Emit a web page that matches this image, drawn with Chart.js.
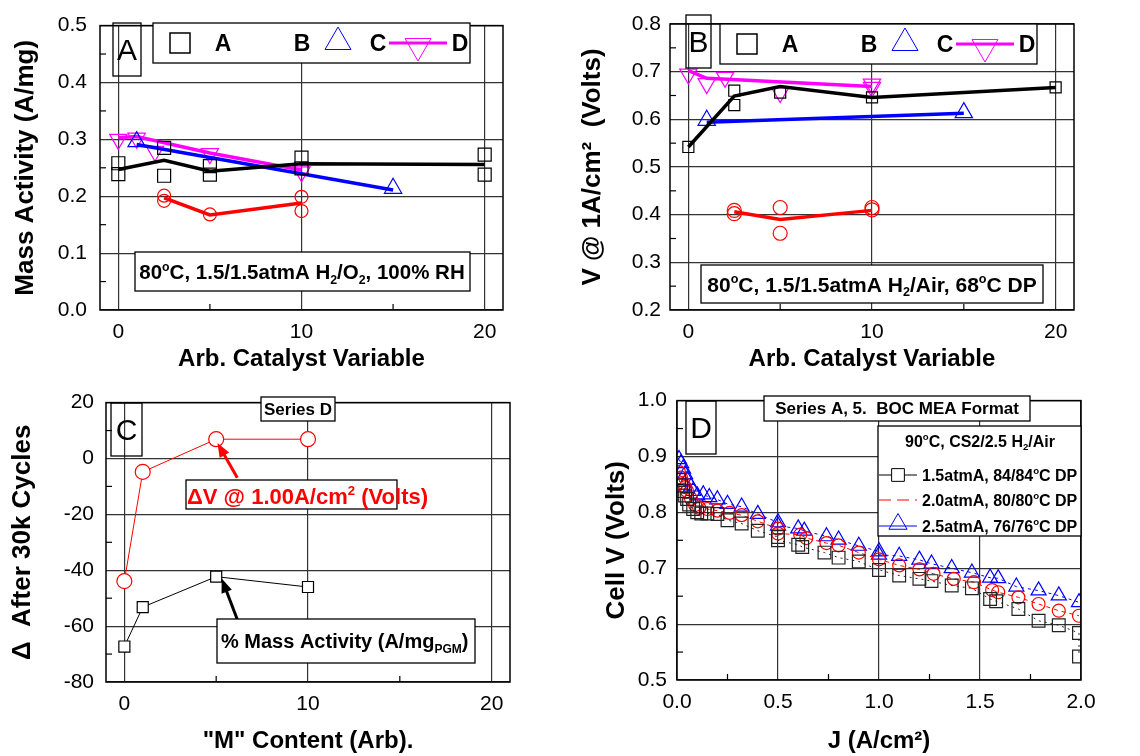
<!DOCTYPE html>
<html>
<head>
<meta charset="utf-8">
<script src="https://cdn.jsdelivr.net/npm/chart.js@4.4.1/dist/chart.umd.min.js"></script>
<style>
  html, body { margin: 0; padding: 0; background: #fff; }
  #wrap { position: relative; width: 1140px; height: 756px; }
  canvas { position: absolute; }
</style>
</head>
<body>
<div id="wrap">
  <canvas id="chartA" width="570" height="378" style="left:0;top:0"></canvas>
  <canvas id="chartB" width="570" height="378" style="left:570px;top:0"></canvas>
  <canvas id="chartC" width="570" height="378" style="left:0;top:378px"></canvas>
  <canvas id="chartD" width="570" height="378" style="left:570px;top:378px"></canvas>
</div>
<script>
// Panel A - mass activity vs catalyst variable
const maSquareX = [0, 0, 2.5, 2.5, 5, 5, 10, 10, 20, 20];
const maSquareY = [0.258, 0.239, 0.285, 0.236, 0.253, 0.238, 0.268, 0.249, 0.273, 0.238];
const maBlackLineX = [0, 2.5, 5, 10, 20];
const maBlackLineY = [0.247, 0.263, 0.244, 0.257, 0.256];
const maCircleX = [2.5, 2.5, 5, 10, 10];
const maCircleY = [0.201, 0.192, 0.168, 0.199, 0.174];
const maRedLineX = [2.5, 5, 10];
const maRedLineY = [0.197, 0.167, 0.188];
const maTriX = [1, 15];
const maTriY = [0.296, 0.214];
const maBlueLineX = [1, 15];
const maBlueLineY = [0.291, 0.211];
const maDownX = [0, 1, 2, 5, 10];
const maDownY = [0.300, 0.302, 0.279, 0.275, 0.243];
const maPinkLineX = [0, 1, 5, 10];
const maPinkLineY = [0.303, 0.305, 0.276, 0.246];

// Panel B - V @ 1A/cm2
const vSquareX = [0, 2.5, 2.5, 5, 10, 20];
const vSquareY = [0.542, 0.660, 0.630, 0.656, 0.646, 0.667];
const vBlackLineX = [0, 2.5, 5, 10, 20];
const vBlackLineY = [0.542, 0.649, 0.669, 0.646, 0.667];
const vCircleX = [2.5, 2.5, 5, 5, 10, 10];
const vCircleY = [0.409, 0.402, 0.415, 0.361, 0.415, 0.410];
const vRedLineX = [2.5, 5, 10];
const vRedLineY = [0.406, 0.390, 0.409];
const vTriX = [1, 15];
const vTriY = [0.598, 0.614];
const vBlueLineX = [1, 15];
const vBlueLineY = [0.594, 0.613];
const vDownX = [0, 1, 2, 5, 10, 10];
const vDownY = [0.695, 0.675, 0.688, 0.656, 0.674, 0.667];
const vPinkLineX = [0, 1, 10];
const vPinkLineY = [0.702, 0.686, 0.669];

// Panel C - change after 30k cycles, series D
const mContent = [0, 1, 5, 10];
const deltaVolts = [-43.9, -4.8, 6.9, 6.9];
const deltaMassAct = [-67.3, -53.2, -42.3, -46.0];

// Panel D - polarization curves
const j15 = [0.01, 0.02, 0.03, 0.04, 0.05, 0.06, 0.08, 0.1, 0.12, 0.15, 0.2, 0.25, 0.32, 0.4, 0.5, 0.5, 0.6, 0.62, 0.73, 0.8, 0.9, 1.0, 1.1, 1.2, 1.26, 1.36, 1.46, 1.55, 1.58, 1.69, 1.79, 1.89, 1.99, 1.99];
const v15 = [0.858, 0.848, 0.838, 0.830, 0.824, 0.814, 0.806, 0.800, 0.798, 0.798, 0.797, 0.786, 0.780, 0.767, 0.756, 0.750, 0.742, 0.738, 0.728, 0.719, 0.712, 0.697, 0.687, 0.681, 0.677, 0.669, 0.664, 0.645, 0.641, 0.627, 0.606, 0.598, 0.584, 0.542];
const j20 = [0.01, 0.02, 0.03, 0.04, 0.05, 0.07, 0.09, 0.11, 0.15, 0.2, 0.26, 0.32, 0.4, 0.5, 0.5, 0.61, 0.64, 0.74, 0.8, 0.9, 1.0, 1.1, 1.2, 1.27, 1.37, 1.47, 1.56, 1.59, 1.69, 1.79, 1.89, 1.99];
const v20 = [0.872, 0.862, 0.853, 0.845, 0.838, 0.824, 0.813, 0.808, 0.806, 0.803, 0.799, 0.795, 0.784, 0.771, 0.762, 0.760, 0.754, 0.745, 0.741, 0.728, 0.716, 0.705, 0.698, 0.690, 0.681, 0.675, 0.661, 0.657, 0.648, 0.636, 0.624, 0.615];
const j25 = [0.01, 0.02, 0.03, 0.04, 0.05, 0.07, 0.08, 0.1, 0.13, 0.16, 0.2, 0.25, 0.32, 0.4, 0.5, 0.5, 0.6, 0.63, 0.74, 0.8, 0.9, 1.0, 1.0, 1.1, 1.2, 1.26, 1.36, 1.46, 1.55, 1.59, 1.68, 1.79, 1.89, 1.99];
const v25 = [0.895, 0.888, 0.878, 0.868, 0.858, 0.846, 0.838, 0.830, 0.832, 0.827, 0.823, 0.815, 0.810, 0.797, 0.782, 0.776, 0.771, 0.767, 0.757, 0.751, 0.740, 0.730, 0.724, 0.722, 0.715, 0.708, 0.700, 0.692, 0.683, 0.682, 0.667, 0.660, 0.651, 0.639];

// tick values
const catTicks = [0, 10, 20];
const maTicks = [0, 0.1, 0.2, 0.3, 0.4, 0.5];
const vTicks = [0.2, 0.3, 0.4, 0.5, 0.6, 0.7, 0.8];
const deltaTicks = [-80, -60, -40, -20, 0, 20];
const jTicks = [0, 0.5, 1.0, 1.5, 2.0];
const cellTicks = [0.5, 0.6, 0.7, 0.8, 0.9, 1.0];

const FONT = "'Liberation Sans', Arial, sans-serif";
const GRID = '#333';
Chart.defaults.font.family = FONT;
Chart.defaults.color = '#000';

function pts(xs, ys) { return xs.map((x, i) => ({ x: x, y: ys[i] })); }

function marks(xs, ys, style, color, r, extra) {
  return Object.assign({
    data: pts(xs, ys), showLine: false, pointStyle: style, pointRadius: r,
    borderColor: color, pointBorderColor: color, pointBackgroundColor: 'rgba(0,0,0,0)', pointBorderWidth: 1.2
  }, extra || {});
}

function line(xs, ys, color, w, extra) {
  return Object.assign({
    data: pts(xs, ys), showLine: true, pointRadius: 0, borderColor: color, borderWidth: w, fill: false
  }, extra || {});
}

function scales(o) {
  return {
    x: {
      type: 'linear', min: o.xMin, max: o.xMax,
      afterBuildTicks: s => { s.ticks = o.xTicks.map(v => ({ value: v })); },
      afterFit: s => { s.height = o.xH; },
      grid: { color: GRID, lineWidth: 1.2, drawTicks: false },
      border: { display: false },
      ticks: { padding: o.xPad, font: { size: 21 }, color: '#000', maxRotation: 0, autoSkip: false, callback: o.xFmt },
      title: { display: true, text: o.xTitle, font: { size: 24, weight: 'bold' }, color: '#000', padding: { top: 0, bottom: o.xTitlePad } }
    },
    y: {
      type: 'linear', min: o.yMin, max: o.yMax,
      afterBuildTicks: s => { s.ticks = o.yTicks.map(v => ({ value: v })); },
      afterFit: s => { s.width = o.yW; },
      grid: { color: GRID, lineWidth: 1.2, drawTicks: false },
      border: { display: false },
      ticks: { padding: o.yPad, font: { size: 21 }, color: '#000', autoSkip: false, callback: o.yFmt },
      title: { display: true, text: o.yTitle, font: { size: 26, weight: 'bold' }, color: '#000', padding: { top: o.yTitlePad, bottom: 0 } }
    }
  };
}

// frame box and minor tick marks
Chart.register({
  id: 'frame',
  defaults: { xMinor: [], yMinor: [] },
  afterDatasetsDraw(chart, args, opts) {
    const ctx = chart.ctx, a = chart.chartArea;
    const xs = chart.scales.x, ys = chart.scales.y;
    ctx.save();
    ctx.strokeStyle = '#000';
    ctx.lineWidth = 1.2;
    opts.xMinor.forEach(v => {
      const px = xs.getPixelForValue(v);
      ctx.beginPath(); ctx.moveTo(px, a.bottom); ctx.lineTo(px, a.bottom - 6); ctx.stroke();
    });
    opts.yMinor.forEach(v => {
      const py = ys.getPixelForValue(v);
      ctx.beginPath(); ctx.moveTo(a.left, py); ctx.lineTo(a.left + 6, py); ctx.stroke();
    });
    ctx.lineWidth = 1.5;
    ctx.strokeRect(a.left, a.top, a.right - a.left, a.bottom - a.top);
    ctx.restore();
  }
});

function box(ctx, x1, y1, x2, y2, fill) {
  ctx.save();
  if (fill) { ctx.fillStyle = fill; ctx.fillRect(x1, y1, x2 - x1, y2 - y1); }
  ctx.strokeStyle = '#000';
  ctx.lineWidth = 1.3;
  ctx.strokeRect(x1, y1, x2 - x1, y2 - y1);
  ctx.restore();
}

// text with superscript / subscript pieces: parts = [[text, 'sup'|'sub'|''], ...]
function rich(ctx, parts, x, y, size, bold, color, align) {
  const weight = bold ? 'bold' : 'normal';
  const fontFor = p => weight + ' ' + (p[1] ? size * 0.6 : size) + 'px ' + FONT;
  let w = 0;
  parts.forEach(p => { ctx.font = fontFor(p); w += ctx.measureText(p[0]).width; });
  let cx = align === 'center' ? x - w / 2 : x;
  const base = y + size * 0.36;
  ctx.save();
  ctx.fillStyle = color || '#000';
  ctx.textBaseline = 'alphabetic';
  ctx.textAlign = 'left';
  parts.forEach(p => {
    ctx.font = fontFor(p);
    const dy = p[1] === 'sup' ? -size * 0.42 : p[1] === 'sub' ? size * 0.22 : 0;
    ctx.fillText(p[0], cx, base + dy);
    cx += ctx.measureText(p[0]).width;
  });
  ctx.restore();
}

function letterBox(ctx, x1, y1, x2, y2, letter) {
  box(ctx, x1, y1, x2, y2, null);
  rich(ctx, [[letter, '']], (x1 + x2) / 2, (y1 + y2) / 2, 30, false, '#000', 'center');
}

function marker(ctx, style, x, y, r, color, rot, fill) {
  ctx.save();
  ctx.strokeStyle = color;
  ctx.fillStyle = fill || 'rgba(0,0,0,0)';
  Chart.helpers.drawPoint(ctx, { pointStyle: style, rotation: rot || 0, radius: r, borderWidth: 1.4 }, x, y);
  ctx.restore();
}

function legendAB(ctx, L, T) {
  box(ctx, L, T, L + 317, T + 40, '#fff');
  const cy = T + 20;
  ctx.save();
  ctx.strokeStyle = '#000';
  ctx.lineWidth = 1.5;
  ctx.strokeRect(L + 17, cy - 10, 20, 20);
  ctx.restore();
  rich(ctx, [['A', '']], L + 70, cy, 23, true, '#000', 'center');
  rich(ctx, [['B', '']], L + 149, cy, 23, true, '#000', 'center');
  marker(ctx, 'triangle', L + 185, cy - 1, 15, '#0000ff');
  rich(ctx, [['C', '']], L + 225, cy, 23, true, '#000', 'center');
  ctx.save();
  ctx.strokeStyle = '#ff00ff';
  ctx.lineWidth = 3;
  ctx.beginPath(); ctx.moveTo(L + 236, cy); ctx.lineTo(L + 294, cy); ctx.stroke();
  ctx.restore();
  marker(ctx, 'triangle', L + 265, cy + 3, 15, '#ff00ff', 180);
  rich(ctx, [['D', '']], L + 307, cy, 23, true, '#000', 'center');
}

function arrow(ctx, x1, y1, x2, y2, color) {
  const a = Math.atan2(y2 - y1, x2 - x1), L = 14, W = 5.5;
  ctx.save();
  ctx.strokeStyle = color; ctx.fillStyle = color; ctx.lineWidth = 3;
  ctx.beginPath(); ctx.moveTo(x1, y1); ctx.lineTo(x2 - L * 0.8 * Math.cos(a), y2 - L * 0.8 * Math.sin(a)); ctx.stroke();
  ctx.beginPath(); ctx.moveTo(x2, y2);
  ctx.lineTo(x2 - L * Math.cos(a) + W * Math.sin(a), y2 - L * Math.sin(a) - W * Math.cos(a));
  ctx.lineTo(x2 - L * Math.cos(a) - W * Math.sin(a), y2 - L * Math.sin(a) + W * Math.cos(a));
  ctx.closePath(); ctx.fill();
  ctx.restore();
}

const fmt1 = v => v.toFixed(1);
const fmt0 = v => String(v);
const common = { responsive: false, animation: false, events: [] };

// ---- A ----
new Chart(document.getElementById('chartA'), {
  type: 'scatter',
  data: {
    datasets: [
      marks(maSquareX, maSquareY, 'rect', '#000', 9.2),
      line(maBlackLineX, maBlackLineY, '#000', 3.5),
      marks(maCircleX, maCircleY, 'circle', '#ff0000', 6.5),
      line(maRedLineX, maRedLineY, '#ff0000', 3.5),
      marks(maTriX, maTriY, 'triangle', '#0000ff', 10),
      line(maBlueLineX, maBlueLineY, '#0000ff', 3.5),
      marks(maDownX, maDownY, 'triangle', '#ff00ff', 10, { pointRotation: 180 }),
      line(maPinkLineX, maPinkLineY, '#ff00ff', 3.5)
    ]
  },
  options: Object.assign({}, common, {
    layout: { padding: { top: 24, right: 67, bottom: 0, left: 0 } },
    scales: scales({
      xMin: -1, xMax: 21, xTicks: catTicks, xH: 68, xPad: 10, xFmt: fmt0, xTitle: 'Arb. Catalyst Variable', xTitlePad: 4,
      yMin: 0, yMax: 0.5, yTicks: maTicks, yW: 100, yPad: 13, yFmt: fmt1, yTitle: 'Mass Activity (A/mg)', yTitlePad: 10
    }),
    plugins: {
      legend: { display: false }, tooltip: { enabled: false },
      frame: { xMinor: [5, 15], yMinor: [0.05, 0.15, 0.25, 0.35, 0.45] }
    }
  }),
  plugins: [{
    id: 'decoA',
    afterDatasetsDraw(chart) {
      const ctx = chart.ctx;
      letterBox(ctx, 113, 23, 141, 76, 'A');
      legendAB(ctx, 153, 23);
      box(ctx, 135, 252, 470, 291, '#fff');
      rich(ctx, [['80', ''], ['o', 'sup'], ['C, 1.5/1.5atmA H', ''], ['2', 'sub'], ['/O', ''], ['2', 'sub'], [', 100% RH', '']],
        302, 272, 20.5, true, '#000', 'center');
    }
  }]
});

// ---- B ----
new Chart(document.getElementById('chartB'), {
  type: 'scatter',
  data: {
    datasets: [
      marks(vSquareX, vSquareY, 'rect', '#000', 7.8),
      line(vBlackLineX, vBlackLineY, '#000', 3.5),
      marks(vCircleX, vCircleY, 'circle', '#ff0000', 7),
      line(vRedLineX, vRedLineY, '#ff0000', 3.5),
      marks(vTriX, vTriY, 'triangle', '#0000ff', 10),
      line(vBlueLineX, vBlueLineY, '#0000ff', 3.5),
      marks(vDownX, vDownY, 'triangle', '#ff00ff', 10, { pointRotation: 180 }),
      line(vPinkLineX, vPinkLineY, '#ff00ff', 3.5)
    ]
  },
  options: Object.assign({}, common, {
    layout: { padding: { top: 24, right: 66, bottom: 0, left: 0 } },
    scales: scales({
      xMin: -1, xMax: 21, xTicks: catTicks, xH: 68, xPad: 10, xFmt: fmt0, xTitle: 'Arb. Catalyst Variable', xTitlePad: 4,
      yMin: 0.2, yMax: 0.8, yTicks: vTicks, yW: 100, yPad: 9, yFmt: fmt1, yTitle: 'V @ 1A/cm\u00B2  (Volts)', yTitlePad: 7
    }),
    plugins: {
      legend: { display: false }, tooltip: { enabled: false },
      frame: { xMinor: [5, 15], yMinor: [0.25, 0.35, 0.45, 0.55, 0.65, 0.75] }
    }
  }),
  plugins: [{
    id: 'decoB',
    afterDatasetsDraw(chart) {
      const ctx = chart.ctx;
      letterBox(ctx, 116, 15, 141, 68, 'B');
      legendAB(ctx, 150, 24);
      box(ctx, 131, 265, 473, 303, '#fff');
      rich(ctx, [['80', ''], ['o', 'sup'], ['C, 1.5/1.5atmA H', ''], ['2', 'sub'], ['/Air, 68', ''], ['o', 'sup'], ['C DP', '']],
        302, 284, 21, true, '#000', 'center');
    }
  }]
});

// ---- C ----
new Chart(document.getElementById('chartC'), {
  type: 'scatter',
  data: {
    datasets: [
      marks(mContent, deltaVolts, 'circle', '#ff0000', 7.5, { showLine: true, borderWidth: 1, pointBackgroundColor: '#fff' }),
      marks(mContent, deltaMassAct, 'rect', '#000', 7.8, { showLine: true, borderWidth: 1, pointBackgroundColor: '#fff' })
    ]
  },
  options: Object.assign({}, common, {
    layout: { padding: { top: 15, right: 60, bottom: 0, left: 0 } },
    scales: scales({
      xMin: -1, xMax: 21, xTicks: catTicks, xH: 74, xPad: 10, xFmt: fmt0, xTitle: '"M" Content (Arb).', xTitlePad: 0,
      yMin: -80, yMax: 20, yTicks: deltaTicks, yW: 106, yPad: 12, yFmt: fmt0, yTitle: '\u0394  After 30k Cycles', yTitlePad: 7
    }),
    plugins: {
      legend: { display: false }, tooltip: { enabled: false },
      frame: { xMinor: [5, 15], yMinor: [-70, -50, -30, -10, 10] }
    }
  }),
  plugins: [{
    id: 'decoC',
    afterDatasetsDraw(chart) {
      const ctx = chart.ctx, xs = chart.scales.x, ys = chart.scales.y;
      letterBox(ctx, 111, 25, 142, 78, 'C');
      box(ctx, 261, 19, 335, 43, '#fff');
      rich(ctx, [['Series D', '']], 298, 31, 17, true, '#000', 'center');
      arrow(ctx, xs.getPixelForValue(6.15), ys.getPixelForValue(-6.9), xs.getPixelForValue(5.07), ys.getPixelForValue(5.5), '#ff0000');
      arrow(ctx, xs.getPixelForValue(6.15), ys.getPixelForValue(-57.6), xs.getPixelForValue(5.3), ys.getPixelForValue(-43), '#000');
      box(ctx, 186, 102, 397, 131, '#fff');
      rich(ctx, [['\u0394V @ 1.00A/cm', ''], ['2', 'sup'], [' (Volts)', '']], 187, 118, 22, true, '#ff0000', 'left');
      box(ctx, 217, 241, 475, 285, '#fff');
      rich(ctx, [['% Mass Activity (A/mg', ''], ['PGM', 'sub'], [')', '']], 221, 263, 20, true, '#000', 'left');
    }
  }]
});

// ---- D ----
new Chart(document.getElementById('chartD'), {
  type: 'scatter',
  data: {
    datasets: [
      marks(j15, v15, 'rect', '#222', 9, { showLine: true, borderWidth: 1, borderDash: [2, 4] }),
      marks(j20, v20, 'circle', '#ff0000', 6.5, { showLine: true, borderWidth: 1, borderDash: [4, 4] }),
      marks(j25, v25, 'triangle', '#0000ff', 8.7, { showLine: true, borderWidth: 1, borderDash: [3, 4] })
    ]
  },
  options: Object.assign({}, common, {
    layout: { padding: { top: 15, right: 59, bottom: 0, left: 0 } },
    scales: scales({
      xMin: 0, xMax: 2, xTicks: jTicks, xH: 76, xPad: 10, xFmt: fmt1, xTitle: 'J (A/cm\u00B2)', xTitlePad: 0,
      yMin: 0.5, yMax: 1.0, yTicks: cellTicks, yW: 107, yPad: 10, yFmt: fmt1, yTitle: 'Cell V (Volts)', yTitlePad: 31
    }),
    plugins: {
      legend: { display: false }, tooltip: { enabled: false },
      frame: { xMinor: [0.25, 0.75, 1.25, 1.75], yMinor: [0.55, 0.65, 0.75, 0.85, 0.95] }
    }
  }),
  plugins: [{
    id: 'decoD',
    afterDatasetsDraw(chart) {
      const ctx = chart.ctx;
      letterBox(ctx, 116, 23, 146, 76, 'D');
      box(ctx, 194, 18, 460, 43, '#fff');
      rich(ctx, [['Series A, 5.  BOC MEA Format', '']], 327, 30, 17, true, '#000', 'center');
      box(ctx, 308, 48, 511, 158, '#fff');
      rich(ctx, [['90', ''], ['o', 'sup'], ['C, CS2/2.5 H', ''], ['2', 'sub'], ['/Air', '']], 410, 63, 16, true, '#000', 'center');
      ctx.save();
      ctx.lineWidth = 1;
      ctx.strokeStyle = '#000';
      ctx.beginPath(); ctx.moveTo(309, 97); ctx.lineTo(347, 97); ctx.stroke();
      ctx.strokeStyle = '#ff0000'; ctx.setLineDash([12, 6]);
      ctx.beginPath(); ctx.moveTo(309, 122); ctx.lineTo(347, 122); ctx.stroke();
      ctx.strokeStyle = '#0000ff'; ctx.setLineDash([]);
      ctx.beginPath(); ctx.moveTo(309, 148); ctx.lineTo(347, 148); ctx.stroke();
      ctx.restore();
      marker(ctx, 'rect', 328, 97, 9, '#000', 0, '#fff');
      marker(ctx, 'triangle', 328, 146, 10.5, '#0000ff');
      rich(ctx, [['1.5atmA, 84/84', ''], ['o', 'sup'], ['C DP', '']], 352, 97, 16, true, '#000', 'left');
      rich(ctx, [['2.0atmA, 80/80', ''], ['o', 'sup'], ['C DP', '']], 352, 122, 16, true, '#000', 'left');
      rich(ctx, [['2.5atmA, 76/76', ''], ['o', 'sup'], ['C DP', '']], 352, 148, 16, true, '#000', 'left');
    }
  }]
});
</script>
</body>
</html>
